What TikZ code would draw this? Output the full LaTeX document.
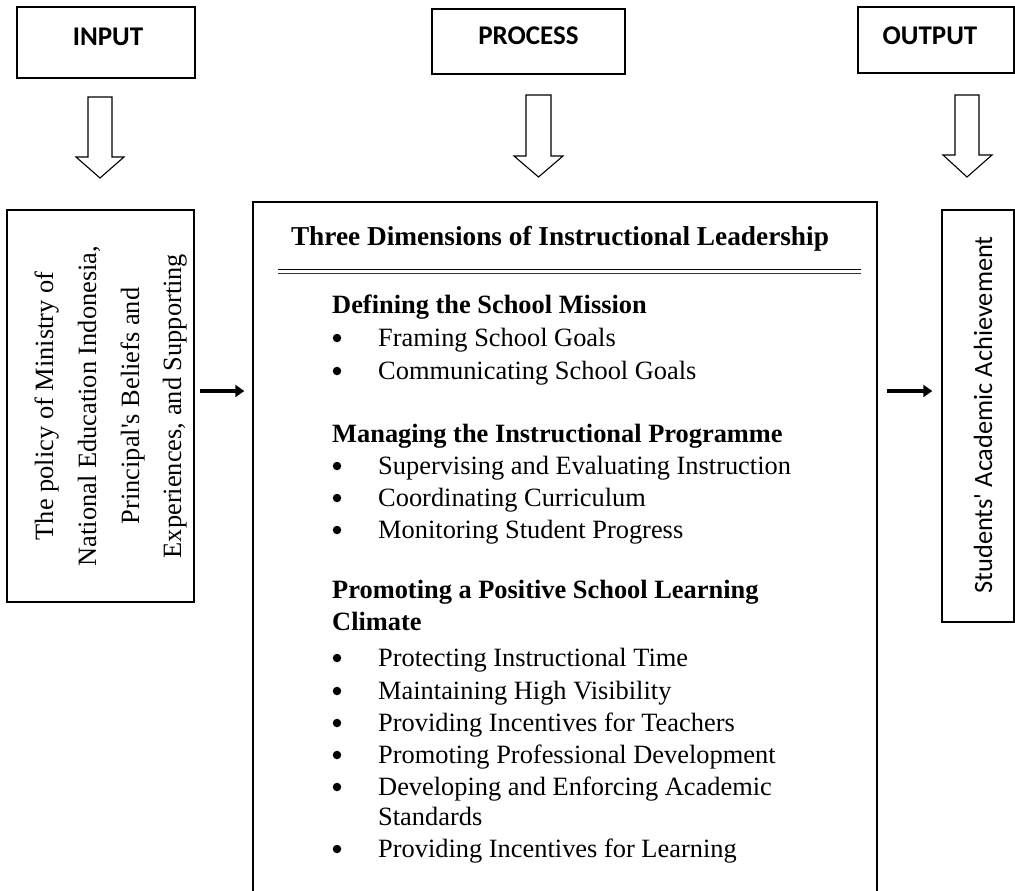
\documentclass[tikz,border=0pt]{standalone}
\usepackage{fontspec}
\setmainfont{Liberation Serif}
\newfontfamily\lserif{Liberation Serif}
\newfontfamily\calib{Carlito}
\usetikzlibrary{arrows.meta,calc}
\begin{document}
\begin{tikzpicture}[x=1pt,y=-1pt,
  boxline/.style={draw=black, line width=1.4pt, inner sep=0pt},
  topbox/.style={boxline, minimum width=#1},
  toplabel/.style={anchor=base, inner sep=0pt, font=\calib\bfseries\fontsize{27}{30}\selectfont},
  blockarrow/.style={draw=black, line width=1.1pt, fill=white, line join=miter},
  smallarrow/.style={line width=3.5pt, -{Triangle[length=9pt,width=12pt]}},
  rottext/.style={rotate=90, anchor=base, inner sep=0pt, font=\lserif\fontsize{26.4}{30}\selectfont},
  titletext/.style={anchor=base, inner sep=0pt, font=\bfseries\fontsize{27.3}{30}\selectfont},
  headtext/.style={anchor=base west, inner sep=0pt, font=\bfseries\fontsize{26.4}{30}\selectfont},
  itemtext/.style={anchor=base west, inner sep=0pt, font=\fontsize{26.4}{30}\selectfont},
  bul/.style={circle, fill=black, inner sep=0pt, minimum size=8.5pt}
]
\useasboundingbox (0,0) rectangle (1015,891);

% top boxes
\node[topbox=178pt, minimum height=71pt] (input) at (106,42.5) {};
\node[topbox=193pt, minimum height=65pt] (process) at (528.5,41.5) {};
\node[topbox=156pt, minimum height=66pt] (output) at (936,40) {};
\node[toplabel] (inputlbl) at (108,46) {INPUT};
\node[toplabel] (processlbl) at (528.5,45) {PROCESS};
\node[toplabel] (outputlbl) at (930,45) {OUTPUT};

% block arrows
\draw[blockarrow] (88,97) -- (112,97) -- (112,157) -- (124,157) -- (100,178) -- (76,157) -- (88,157) -- cycle;
\draw[blockarrow] (526,95) -- (551,95) -- (551,156) -- (563,156) -- (538.5,177) -- (514,156) -- (526,156) -- cycle;
\draw[blockarrow] (955,95) -- (979,95) -- (979,155) -- (992,155) -- (967,177) -- (943,155) -- (955,155) -- cycle;

% side boxes
\node[boxline, minimum width=187pt, minimum height=392pt] (lbox) at (100.5,406) {};
\node[boxline, minimum width=72pt, minimum height=412pt] (rbox) at (978,416) {};
% centre box (bottom edge lies below the page)
\node[boxline, minimum width=624pt, minimum height=748pt] (cbox) at (565,576) {};

% rotated texts
\node[rottext] (l1) at (53,406) {The policy of Ministry of};
\node[rottext] (l2) at (96,406) {National Education Indonesia,};
\node[rottext] (l3) at (139,406) {Principal's Beliefs and};
\node[rottext] (l4) at (181,406) {Experiences, and Supporting};
\node[rottext, anchor=base east, font=\calib\fontsize{26.4}{30}\selectfont] (r1) at (992,236) {Students' Academic Achievement};

% small arrows
\draw[smallarrow, shorten <=5pt, shorten >=8pt] (lbox.east |- 0,391) -- (cbox.west |- 0,391);
\draw[smallarrow, shorten <=9pt, shorten >=9pt] (cbox.east |- 0,391) -- (rbox.west |- 0,391);

% title and rule
\node[titletext] (title) at (560,245) {Three Dimensions of Instructional Leadership};
\draw[line width=1pt] (278,269.5) -- (861,269.5);
\draw[line width=1.6pt, black!80] (278,273.5) -- (861,273.5);

% dimension 1
\node[headtext] (h1) at (332,313) {Defining the School Mission};
\node[bul] (b11) at (337,338) {};
\node[itemtext] (i11) at (378,346) {Framing School Goals};
\node[bul] (b12) at (337,371) {};
\node[itemtext] (i12) at (378,379) {Communicating School Goals};

% dimension 2
\node[headtext] (h2) at (332,442) {Managing the Instructional Programme};
\node[bul] (b21) at (337,466) {};
\node[itemtext] (i21) at (378,474) {Supervising and Evaluating Instruction};
\node[bul] (b22) at (337,498) {};
\node[itemtext] (i22) at (378,506) {Coordinating Curriculum};
\node[bul] (b23) at (337,530) {};
\node[itemtext] (i23) at (378,538) {Monitoring Student Progress};

% dimension 3
\node[headtext] (h3a) at (332,598) {Promoting a Positive School Learning};
\node[headtext] (h3b) at (332,630) {Climate};
\node[bul] (b31) at (337,658) {};
\node[itemtext] (i31) at (378,666) {Protecting Instructional Time};
\node[bul] (b32) at (337,691) {};
\node[itemtext] (i32) at (378,699) {Maintaining High Visibility};
\node[bul] (b33) at (337,723) {};
\node[itemtext] (i33) at (378,731) {Providing Incentives for Teachers};
\node[bul] (b34) at (337,755) {};
\node[itemtext] (i34) at (378,763) {Promoting Professional Development};
\node[bul] (b35) at (337,787) {};
\node[itemtext] (i35a) at (378,795) {Developing and Enforcing Academic};
\node[itemtext] (i35b) at (378,825) {Standards};
\node[bul] (b36) at (337,849) {};
\node[itemtext] (i36) at (378,857) {Providing Incentives for Learning};
\end{tikzpicture}
\end{document}
